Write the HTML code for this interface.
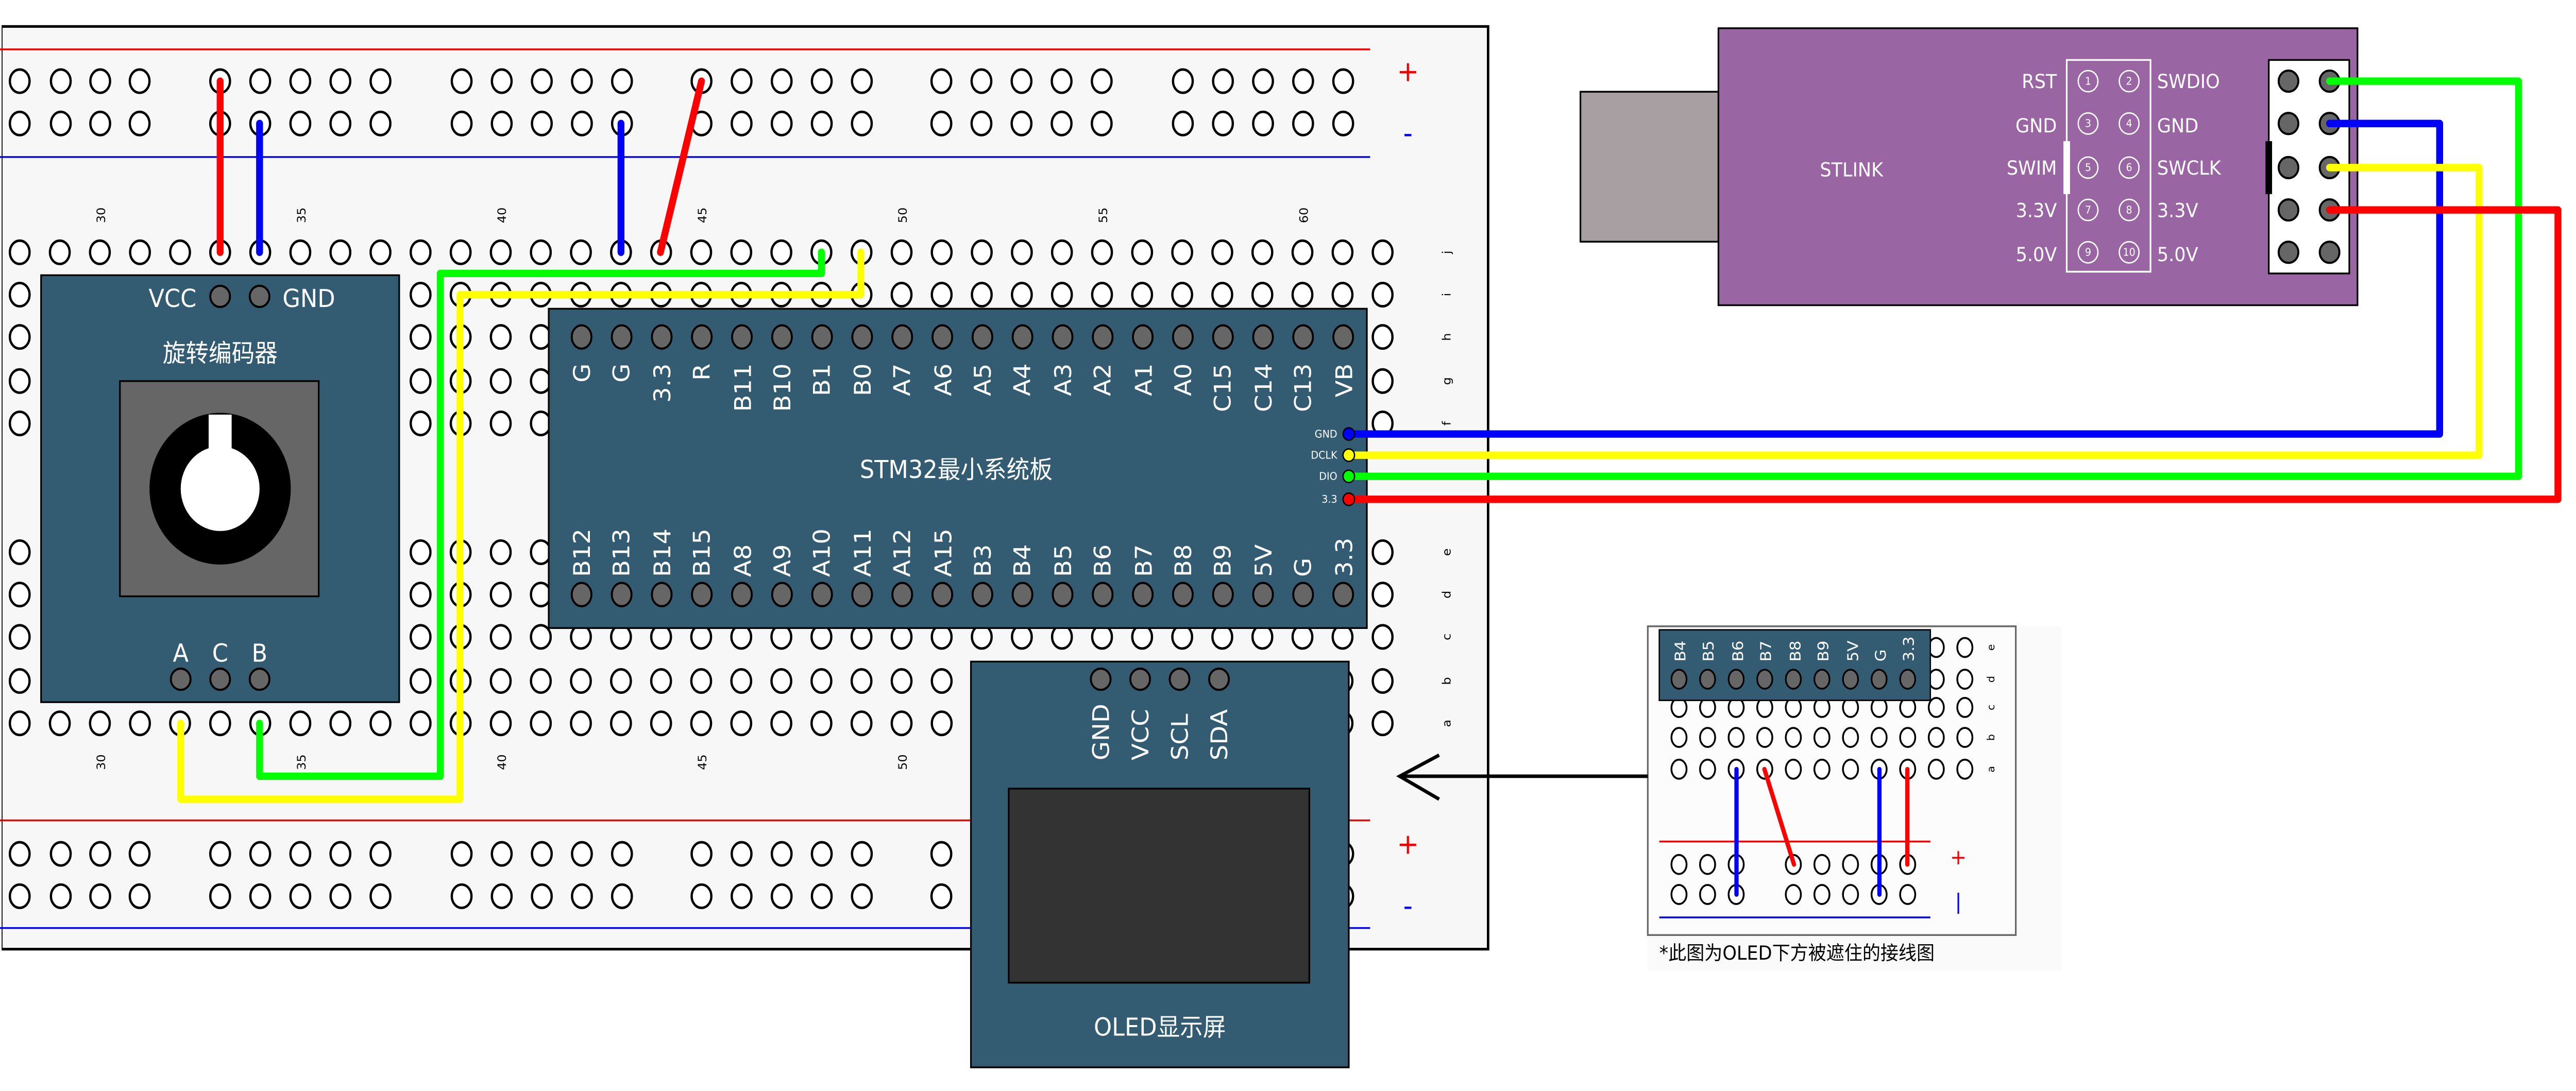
<!DOCTYPE html>
<html><head><meta charset="utf-8"><style>
html,body{margin:0;padding:0;background:#fff;overflow:hidden;width:100vw;height:100vh;}
svg{display:block;width:100vw;height:100vh;}
text{font-family:"DejaVu Sans","Liberation Sans","Noto Sans CJK SC",sans-serif;}
</style></head><body>
<svg id="s" xmlns="http://www.w3.org/2000/svg" viewBox="0 0 1568 618.4" preserveAspectRatio="none">
<rect x="0" y="0" width="1568" height="619" fill="#fff"/>
<!-- main breadboard -->
<rect x="0.8" y="15" width="905" height="523" fill="#f7f7f7" stroke="#000" stroke-width="1.5"/>
<rect x="0" y="14" width="1" height="525" fill="#f7f7f7"/>
<line x1="0" y1="28" x2="834" y2="28" stroke="#e00" stroke-width="1"/>
<line x1="0" y1="89" x2="834" y2="89" stroke="#00e" stroke-width="1"/>
<line x1="0" y1="465" x2="834" y2="465" stroke="#e00" stroke-width="1"/>
<line x1="0" y1="526" x2="834" y2="526" stroke="#00e" stroke-width="1"/>
<text x="857" y="46" fill="#e00" font-size="16" text-anchor="middle">+</text>
<text x="857" y="81" fill="#00e" font-size="16" text-anchor="middle">-</text>
<text x="857" y="484" fill="#e00" font-size="16" text-anchor="middle">+</text>
<text x="857" y="519" fill="#00e" font-size="16" text-anchor="middle">-</text>
<g font-size="7" fill="#000" text-anchor="middle">
<text transform="translate(64,122) rotate(-90)">30</text>
<text transform="translate(186,122) rotate(-90)">35</text>
<text transform="translate(308,122) rotate(-90)">40</text>
<text transform="translate(430,122) rotate(-90)">45</text>
<text transform="translate(552,122) rotate(-90)">50</text>
<text transform="translate(674,122) rotate(-90)">55</text>
<text transform="translate(796,122) rotate(-90)">60</text>
<text transform="translate(64,432) rotate(-90)">30</text>
<text transform="translate(186,432) rotate(-90)">35</text>
<text transform="translate(308,432) rotate(-90)">40</text>
<text transform="translate(430,432) rotate(-90)">45</text>
<text transform="translate(552,432) rotate(-90)">50</text>
<text transform="translate(883,143) rotate(-90)">j</text>
<text transform="translate(883,167) rotate(-90)">i</text>
<text transform="translate(883,191) rotate(-90)">h</text>
<text transform="translate(883,216) rotate(-90)">g</text>
<text transform="translate(883,240) rotate(-90)">f</text>
<text transform="translate(883,313) rotate(-90)">e</text>
<text transform="translate(883,337) rotate(-90)">d</text>
<text transform="translate(883,361) rotate(-90)">c</text>
<text transform="translate(883,386) rotate(-90)">b</text>
<text transform="translate(883,410) rotate(-90)">a</text>
</g>
<g id="holes" fill="#fff" stroke="#000" stroke-width="1.4"></g>

<!-- inset -->
<rect x="1003" y="355" width="252" height="195" fill="#fafafa"/>
<rect x="1003" y="355" width="224" height="175" fill="#fcfcfc" stroke="#666" stroke-width="1"/>
<line x1="1010" y1="477" x2="1175" y2="477" stroke="#e00" stroke-width="1"/>
<line x1="1010" y1="520" x2="1175" y2="520" stroke="#00e" stroke-width="1"/>
<text x="1192" y="490" fill="#e00" font-size="12" text-anchor="middle">+</text>
<text x="1192" y="515" fill="#00e" font-size="12" text-anchor="middle">|</text>
<g font-size="6" fill="#000" text-anchor="middle">
<text transform="translate(1214,367) rotate(-90)">e</text>
<text transform="translate(1214,385) rotate(-90)">d</text>
<text transform="translate(1214,401) rotate(-90)">c</text>
<text transform="translate(1214,418) rotate(-90)">b</text>
<text transform="translate(1214,436) rotate(-90)">a</text>
</g>
<g id="iholes" fill="#fff" stroke="#000" stroke-width="1.1"></g>
<rect x="1010" y="357" width="165" height="40" fill="#335c73" stroke="#000" stroke-width="0.8"/>
<g font-size="9" fill="#fff">
<text transform="translate(1026,375) rotate(-90)">B4</text>
<text transform="translate(1043,375) rotate(-90)">B5</text>
<text transform="translate(1061,375) rotate(-90)">B6</text>
<text transform="translate(1078,375) rotate(-90)">B7</text>
<text transform="translate(1096,375) rotate(-90)">B8</text>
<text transform="translate(1113,375) rotate(-90)">B9</text>
<text transform="translate(1131,375) rotate(-90)">5V</text>
<text transform="translate(1148,375) rotate(-90)">G</text>
<text transform="translate(1165,375) rotate(-90)">3.3</text>
</g>
<g id="ipins" fill="#666" stroke="#000" stroke-width="1"></g>
<g stroke-width="2.6" stroke-linecap="round">
<line x1="1057" y1="436" x2="1057" y2="507" stroke="#00f"/>
<line x1="1074" y1="436" x2="1092" y2="490" stroke="#f00"/>
<line x1="1144" y1="436" x2="1144" y2="507" stroke="#00f"/>
<line x1="1161" y1="436" x2="1161" y2="490" stroke="#f00"/>
</g>
<text x="1010" y="544" font-size="11" fill="#000" font-family="Liberation Sans,Noto Sans CJK SC,sans-serif">*此图为OLED下方被遮住的接线图</text>

<!-- arrow -->
<g stroke="#000" stroke-width="2" fill="none">
<line x1="1003" y1="440" x2="852" y2="440"/>
<polyline points="876,428 852,440 876,453"/>
</g>

<!-- encoder -->
<rect x="25" y="156" width="218" height="242" fill="#335c73" stroke="#000" stroke-width="1"/>
<text x="105" y="174" font-size="14" fill="#fff" text-anchor="middle">VCC</text>
<text x="188" y="174" font-size="14" fill="#fff" text-anchor="middle">GND</text>
<text x="134" y="205" font-size="14" fill="#fff" text-anchor="middle" font-family="Noto Sans CJK SC,sans-serif">旋转编码器</text>
<rect x="73" y="216" width="121" height="122" fill="#666" stroke="#000" stroke-width="1"/>
<circle cx="134" cy="277" r="43" fill="#000"/>
<circle cx="134" cy="277" r="24" fill="#fff"/>
<rect x="127" y="235" width="14" height="24" fill="#fff"/>
<text x="110" y="375" font-size="14" fill="#fff" text-anchor="middle">A</text>
<text x="134" y="375" font-size="14" fill="#fff" text-anchor="middle">C</text>
<text x="158" y="375" font-size="14" fill="#fff" text-anchor="middle">B</text>
<g fill="#666" stroke="#000" stroke-width="1.2">
<circle cx="134" cy="168" r="6"/><circle cx="158" cy="168" r="6"/>
<circle cx="110" cy="385" r="6"/><circle cx="134" cy="385" r="6"/><circle cx="158" cy="385" r="6"/>
</g>

<!-- STM32 -->
<rect x="334" y="175" width="498" height="181" fill="#335c73" stroke="#000" stroke-width="1"/>
<g id="spins" fill="#666" stroke="#000" stroke-width="1.2"></g>
<g font-size="14" fill="#fff" text-anchor="end">
<text transform="translate(359,206) rotate(-90)">G</text>
<text transform="translate(383,206) rotate(-90)">G</text>
<text transform="translate(408,206) rotate(-90)">3.3</text>
<text transform="translate(432,206) rotate(-90)">R</text>
<text transform="translate(457,206) rotate(-90)">B11</text>
<text transform="translate(481,206) rotate(-90)">B10</text>
<text transform="translate(505,206) rotate(-90)">B1</text>
<text transform="translate(530,206) rotate(-90)">B0</text>
<text transform="translate(554,206) rotate(-90)">A7</text>
<text transform="translate(579,206) rotate(-90)">A6</text>
<text transform="translate(603,206) rotate(-90)">A5</text>
<text transform="translate(627,206) rotate(-90)">A4</text>
<text transform="translate(652,206) rotate(-90)">A3</text>
<text transform="translate(676,206) rotate(-90)">A2</text>
<text transform="translate(701,206) rotate(-90)">A1</text>
<text transform="translate(725,206) rotate(-90)">A0</text>
<text transform="translate(749,206) rotate(-90)">C15</text>
<text transform="translate(774,206) rotate(-90)">C14</text>
<text transform="translate(798,206) rotate(-90)">C13</text>
<text transform="translate(823,206) rotate(-90)">VB</text>
</g>
<g font-size="14" fill="#fff" text-anchor="start">
<text transform="translate(359,327) rotate(-90)">B12</text>
<text transform="translate(383,327) rotate(-90)">B13</text>
<text transform="translate(408,327) rotate(-90)">B14</text>
<text transform="translate(432,327) rotate(-90)">B15</text>
<text transform="translate(457,327) rotate(-90)">A8</text>
<text transform="translate(481,327) rotate(-90)">A9</text>
<text transform="translate(505,327) rotate(-90)">A10</text>
<text transform="translate(530,327) rotate(-90)">A11</text>
<text transform="translate(554,327) rotate(-90)">A12</text>
<text transform="translate(579,327) rotate(-90)">A15</text>
<text transform="translate(603,327) rotate(-90)">B3</text>
<text transform="translate(627,327) rotate(-90)">B4</text>
<text transform="translate(652,327) rotate(-90)">B5</text>
<text transform="translate(676,327) rotate(-90)">B6</text>
<text transform="translate(701,327) rotate(-90)">B7</text>
<text transform="translate(725,327) rotate(-90)">B8</text>
<text transform="translate(749,327) rotate(-90)">B9</text>
<text transform="translate(774,327) rotate(-90)">5V</text>
<text transform="translate(798,327) rotate(-90)">G</text>
<text transform="translate(823,327) rotate(-90)">3.3</text>
</g>
<text x="582" y="271" font-size="14" fill="#fff" text-anchor="middle" font-family="DejaVu Sans,Noto Sans CJK SC,sans-serif">STM32最小系统板</text>
<g font-size="6" fill="#fff" text-anchor="end">
<text x="814" y="248">GND</text><text x="814" y="260">DCLK</text><text x="814" y="272">DIO</text><text x="814" y="285">3.3</text>
</g>

<!-- OLED -->
<rect x="591" y="375" width="230" height="230" fill="#335c73" stroke="#000" stroke-width="1"/>
<g fill="#666" stroke="#000" stroke-width="1.2">
<circle cx="670" cy="385" r="6"/><circle cx="694" cy="385" r="6"/><circle cx="718" cy="385" r="6"/><circle cx="742" cy="385" r="6"/>
</g>
<g font-size="14" fill="#fff" text-anchor="start">
<text transform="translate(675,431) rotate(-90)">GND</text>
<text transform="translate(699,431) rotate(-90)">VCC</text>
<text transform="translate(723,431) rotate(-90)">SCL</text>
<text transform="translate(747,431) rotate(-90)">SDA</text>
</g>
<rect x="614" y="447" width="183" height="110" fill="#333" stroke="#000" stroke-width="1"/>
<text x="706" y="587" font-size="14" fill="#fff" text-anchor="middle" font-family="DejaVu Sans,Noto Sans CJK SC,sans-serif">OLED显示屏</text>

<!-- STLINK -->
<rect x="962" y="52" width="84" height="85" fill="#a89fa3" stroke="#000" stroke-width="1"/>
<rect x="1046" y="16" width="389" height="157" fill="#9966a3" stroke="#000" stroke-width="1"/>
<text x="1127" y="100" font-size="11" fill="#fff" text-anchor="middle">STLINK</text>
<rect x="1258" y="34" width="51" height="120" fill="#9966a3" stroke="#fff" stroke-width="1"/>
<rect x="1256" y="80" width="4" height="30" fill="#fff"/>
<g fill="none" stroke="#fff" stroke-width="0.8">
<circle cx="1271" cy="46" r="6"/><circle cx="1296" cy="46" r="6"/>
<circle cx="1271" cy="70" r="6"/><circle cx="1296" cy="70" r="6"/>
<circle cx="1271" cy="95" r="6"/><circle cx="1296" cy="95" r="6"/>
<circle cx="1271" cy="119" r="6"/><circle cx="1296" cy="119" r="6"/>
<circle cx="1271" cy="143" r="6"/><circle cx="1296" cy="143" r="6"/>
</g>
<g font-size="6" fill="#fff" text-anchor="middle">
<text x="1271" y="48">1</text><text x="1296" y="48">2</text>
<text x="1271" y="72">3</text><text x="1296" y="72">4</text>
<text x="1271" y="97">5</text><text x="1296" y="97">6</text>
<text x="1271" y="121">7</text><text x="1296" y="121">8</text>
<text x="1271" y="145">9</text><text x="1296" y="145">10</text>
</g>
<g font-size="11" fill="#fff" text-anchor="end">
<text x="1252" y="50">RST</text><text x="1252" y="75">GND</text><text x="1252" y="99">SWIM</text><text x="1252" y="123">3.3V</text><text x="1252" y="148">5.0V</text>
</g>
<g font-size="11" fill="#fff" text-anchor="start">
<text x="1313" y="50">SWDIO</text><text x="1313" y="75">GND</text><text x="1313" y="99">SWCLK</text><text x="1313" y="123">3.3V</text><text x="1313" y="148">5.0V</text>
</g>
<rect x="1381" y="34" width="49" height="121" fill="#fff" stroke="#000" stroke-width="1"/>
<rect x="1379" y="80" width="4" height="30" fill="#000"/>
<g fill="#666" stroke="#000" stroke-width="1.2">
<circle cx="1393" cy="46" r="6"/><circle cx="1418" cy="46" r="6"/>
<circle cx="1393" cy="70" r="6"/><circle cx="1418" cy="70" r="6"/>
<circle cx="1393" cy="95" r="6"/><circle cx="1418" cy="95" r="6"/>
<circle cx="1393" cy="119" r="6"/><circle cx="1418" cy="119" r="6"/>
<circle cx="1393" cy="143" r="6"/><circle cx="1418" cy="143" r="6"/>
</g>

<!-- wires -->
<g fill="none" stroke-width="4.2" stroke-linecap="round" stroke-linejoin="round">
<line x1="134" y1="46" x2="134" y2="143" stroke="#f00"/>
<line x1="158" y1="70" x2="158" y2="143" stroke="#00f"/>
<line x1="378" y1="70" x2="378" y2="143" stroke="#00f"/>
<line x1="427" y1="46" x2="402" y2="143" stroke="#f00"/>
<polyline points="158,410 158,440 268,440 268,155 500,155 500,143" stroke="#0f0"/>
<polyline points="110,410 110,453 280,453 280,167 524,167 524,143" stroke="#ff0"/>
<polyline points="1418,46 1533,46 1533,270 821,270" stroke="#0f0"/>
<polyline points="1418,70 1485,70 1485,246 821,246" stroke="#00f"/>
<polyline points="1418,95 1509,95 1509,258 821,258" stroke="#ff0"/>
<polyline points="1418,119 1557,119 1557,283 821,283" stroke="#f00"/>
</g>
<g stroke="#000" stroke-width="0.8">
<circle cx="821" cy="246" r="3.5" fill="#00f"/><circle cx="821" cy="258" r="3.5" fill="#ff0"/>
<circle cx="821" cy="270" r="3.5" fill="#0f0"/><circle cx="821" cy="283" r="3.5" fill="#f00"/>
</g>
</svg>
<script>
(function(){
var NS="http://www.w3.org/2000/svg";
function c(g,x,y,rx,ry){var e=document.createElementNS(NS,"ellipse");e.setAttribute("cx",x);e.setAttribute("cy",y);e.setAttribute("rx",rx);e.setAttribute("ry",ry);g.appendChild(e);}
var h=document.getElementById("holes");
var groups=[[12,37,61,85]];
[134,281,427,573,720].forEach(function(s){var a=[];for(var i=0;i<5;i++)a.push(s+24.4*i);groups.push(a);});
groups.forEach(function(a){a.forEach(function(x){[46,70,484,508].forEach(function(y){c(h,x,y,6,6.6);});});});
for(var i=0;i<35;i++){var x=12+24.4*i;[143,167,191,216,240,313,337,361,386,410].forEach(function(y){c(h,x,y,6,6.6);});}
var ih=document.getElementById("iholes");
for(var j=0;j<11;j++){var x2=1022+17.4*j;[367,385,401,418,436].forEach(function(y){c(ih,x2,y,4.6,5.4);});}
[0,1,2,4,5,6,7,8].forEach(function(j){var x3=1022+17.4*j;[490,507].forEach(function(y){c(ih,x3,y,4.6,5.4);});});
var ip=document.getElementById("ipins");
for(var k=0;k<9;k++){c(ip,1022+17.4*k,385,4.6,5.4);}
var sp=document.getElementById("spins");
for(var m=0;m<20;m++){var x4=354+24.4*m;c(sp,x4,191,6,6.6);c(sp,x4,337,6,6.6);}
})();
</script>
</body></html>
